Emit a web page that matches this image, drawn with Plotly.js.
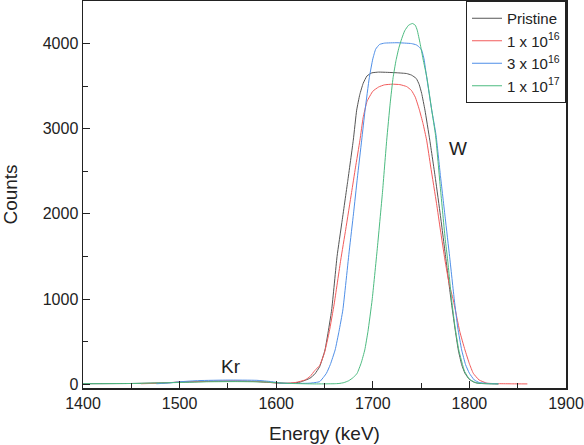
<!DOCTYPE html>
<html>
<head>
<meta charset="utf-8">
<script src="https://cdn.plot.ly/plotly-3.0.1.min.js"></script>
<style>
  html, body { margin: 0; padding: 0; background: #fff; }
  #plot { width: 584px; height: 445px; }
</style>
</head>
<body>
<div id="plot"></div>
<script>
// RBS spectra: counts vs. energy for the pristine sample and three Kr fluences
const seriesNames = ['Pristine', '1 x 10<sup>16</sup>', '3 x 10<sup>16</sup>', '1 x 10<sup>17</sup>'];

const pristineE = [1400, 1450, 1480, 1500, 1530, 1560, 1580, 1600, 1615, 1625, 1635, 1640, 1645, 1650.5, 1657.4, 1663, 1668, 1674, 1679.8, 1683.3, 1686.5, 1690, 1694, 1699, 1706, 1715, 1725, 1735, 1740, 1745, 1748, 1750.6, 1754, 1759, 1765, 1770, 1775.8, 1781, 1785, 1788.5, 1792, 1795.4, 1800, 1805, 1809, 1820, 1830];
const pristineC = [5, 8, 15, 22, 32, 35, 30, 15, 10, 25, 70, 120, 206, 402, 871, 1500, 1900, 2380, 2866, 3218, 3400, 3532, 3620, 3656, 3665, 3662, 3657, 3648, 3630, 3590, 3520, 3414, 3218, 2866, 2400, 1980, 1458, 988, 660, 402, 230, 128, 55, 22, 10, 5, 3];

const fluence1e16E = [1460, 1480, 1500, 1530, 1560, 1580, 1600, 1610, 1620, 1630, 1635, 1640, 1645, 1650, 1655, 1660, 1666.8, 1672, 1678, 1682, 1686.7, 1690, 1694, 1700, 1706, 1712, 1720, 1728, 1735, 1740, 1744, 1748, 1752, 1755.7, 1760, 1766, 1770, 1774.7, 1779, 1783.3, 1790, 1795.4, 1800, 1804, 1810, 1818, 1830, 1845, 1860];
const fluence1e16C = [5, 12, 25, 35, 38, 32, 15, 10, 20, 50, 90, 160, 220, 370, 620, 940, 1458, 1820, 2250, 2540, 2866, 3130, 3320, 3440, 3490, 3515, 3523, 3518, 3495, 3450, 3370, 3230, 3060, 2866, 2550, 2120, 1810, 1458, 1180, 988, 620, 402, 240, 128, 50, 12, 6, 4, 3];

const fluence3e16E = [1476, 1490, 1500, 1520, 1550, 1580, 1595, 1605, 1620, 1635, 1645, 1652, 1656, 1661, 1665, 1669, 1675.7, 1680, 1684, 1688.5, 1692, 1696.4, 1700, 1703, 1707, 1712, 1725, 1740, 1745, 1748, 1750.6, 1753, 1755.7, 1761, 1765.4, 1770, 1775, 1779.5, 1784.4, 1788, 1792, 1796, 1800, 1805, 1810, 1820, 1830];
const fluence3e16C = [5, 15, 28, 42, 48, 45, 30, 12, 8, 12, 30, 128, 230, 402, 620, 871, 1575, 2000, 2420, 2866, 3218, 3600, 3820, 3935, 3990, 4005, 4010, 4000, 3985, 3960, 3922, 3820, 3609, 3218, 2930, 2450, 1950, 1500, 988, 660, 402, 230, 128, 50, 20, 8, 5];

const fluence1e17E = [1400, 1450, 1500, 1530, 1560, 1590, 1610, 1640, 1660, 1665, 1670, 1675, 1680, 1683.8, 1688, 1691.7, 1695, 1699.3, 1704.5, 1710, 1714.4, 1718, 1721, 1724, 1727, 1730, 1733, 1737, 1741, 1744, 1746, 1749, 1752, 1756, 1761, 1765, 1770, 1775, 1777.5, 1781.6, 1785, 1789, 1795, 1800, 1805, 1810, 1820, 1830];
const fluence1e17C = [5, 8, 20, 28, 30, 25, 10, 3, 5, 8, 18, 40, 80, 128, 250, 402, 620, 988, 1575, 2250, 2866, 3300, 3600, 3800, 3950, 4060, 4150, 4215, 4236, 4215, 4157, 4000, 3820, 3600, 3218, 2920, 2300, 1700, 1458, 988, 680, 402, 150, 60, 25, 10, 5, 3];

const lineColors = ['#555555', '#f25b5b', '#4f8fe8', '#4cbb80'];

const xs = [pristineE, fluence1e16E, fluence3e16E, fluence1e17E];
const ys = [pristineC, fluence1e16C, fluence3e16C, fluence1e17C];

const traces = seriesNames.map((name, i) => ({
  x: xs[i],
  y: ys[i],
  name: name,
  type: 'scatter',
  mode: 'lines',
  line: { color: lineColors[i], width: 1, shape: 'spline', smoothing: 0.4 }
}));

const font = { family: 'Liberation Sans, Arial, sans-serif', color: '#222' };

const layout = {
  width: 584,
  height: 445,
  margin: { l: 83, r: 18, t: 1, b: 57 },
  paper_bgcolor: '#fff',
  plot_bgcolor: '#fff',
  font: Object.assign({ size: 16 }, font),
  showlegend: true,
  legend: {
    x: 1, y: 1, xanchor: 'right', yanchor: 'top',
    bgcolor: '#fff', bordercolor: '#222', borderwidth: 1,
    font: Object.assign({ size: 15 }, font),
    tracegroupgap: 0
  },
  xaxis: {
    range: [1400, 1900],
    tickvals: [1400, 1500, 1600, 1700, 1800, 1900],
    ticks: 'inside', ticklen: 7, tickwidth: 1, tickcolor: '#222',
    minor: { dtick: 50, ticks: 'inside', ticklen: 5, tickwidth: 1, tickcolor: '#222' },
    showline: true, linecolor: '#222', linewidth: 1.5, mirror: true,
    showgrid: false, zeroline: false,
    tickfont: Object.assign({ size: 16 }, font),
    title: { text: 'Energy (keV)', font: Object.assign({ size: 19 }, font), standoff: 16 }
  },
  yaxis: {
    range: [-45, 4500],
    tickvals: [0, 1000, 2000, 3000, 4000],
    ticks: 'inside', ticklen: 7, tickwidth: 1, tickcolor: '#222',
    minor: { dtick: 500, ticks: 'inside', ticklen: 5, tickwidth: 1, tickcolor: '#222' },
    showline: true, linecolor: '#222', linewidth: 1.5, mirror: true,
    showgrid: false, zeroline: false,
    tickfont: Object.assign({ size: 16 }, font),
    title: { text: 'Counts', font: Object.assign({ size: 19 }, font), standoff: 21 }
  },
  annotations: [
    { x: 1788, y: 2772, xref: 'x', yref: 'y', text: 'W', showarrow: false,
      font: Object.assign({ size: 19 }, font) },
    { x: 1553, y: 202, xref: 'x', yref: 'y', text: 'Kr', showarrow: false,
      font: Object.assign({ size: 19 }, font) }
  ]
};

Plotly.newPlot('plot', traces, layout, { displayModeBar: false, staticPlot: true });
</script>
</body>
</html>
